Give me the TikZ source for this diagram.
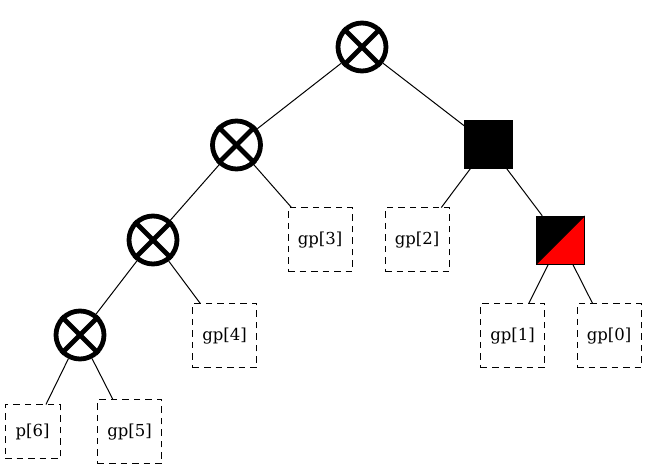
\documentclass[tikz,border=0pt]{standalone}
\usepackage{fontspec}
\setmainfont{DejaVu Serif}
\begin{document}
\begin{tikzpicture}[x=1pt,y=-1pt,
  otimesnode/.style={circle,draw,line width=4.8pt,minimum size=48pt,inner sep=0pt},
  leafbox/.style={rectangle,draw,dash pattern=on 6.5pt off 5pt,line width=1pt,minimum width=64pt,minimum height=64pt,inner sep=0pt,font=\fontsize{16.5}{19}\selectfont},
  blacksq/.style={rectangle,draw,fill=black,minimum size=48pt,inner sep=0pt},
  halfsq/.style={rectangle,draw,fill=black,minimum size=48pt,inner sep=0pt,
    path picture={\fill[red] (path picture bounding box.south west) -- (path picture bounding box.north east) -- (path picture bounding box.south east) -- cycle;
    \draw[line width=0.8pt] (path picture bounding box.south west) -- (path picture bounding box.north east);}},
  edge/.style={line width=1pt}]
\useasboundingbox (0,0) rectangle (646,470);
\node[otimesnode] (root) at (362,47) {};
\node[otimesnode] (c2) at (236.5,145) {};
\node[otimesnode] (c3) at (153,240) {};
\node[otimesnode] (c4) at (80,335) {};
\node[blacksq] (sq) at (488.5,144.5) {};
\node[halfsq] (rb) at (560.5,240) {};
\node[leafbox,minimum width=55pt,minimum height=54pt] (p6) at (32.5,432) {p[6]};
\node[leafbox] (gp5) at (129.5,432) {gp[5]};
\node[leafbox] (gp4) at (224.5,336) {gp[4]};
\node[leafbox] (gp3) at (320,240) {gp[3]};
\node[leafbox] (gp2) at (417,240) {gp[2]};
\node[leafbox] (gp1) at (512.5,336) {gp[1]};
\node[leafbox] (gp0) at (609,336) {gp[0]};
\foreach \n in {root,c2,c3,c4}{
  \draw[line width=4.8pt] (\n.north west) -- (\n.south east);
  \draw[line width=4.8pt] (\n.north east) -- (\n.south west);
}
\draw[edge] (root) -- (c2);
\draw[edge] (root) -- (sq);
\draw[edge] (c2) -- (c3);
\draw[edge] (c2) -- (gp3);
\draw[edge] (c3) -- (c4);
\draw[edge] (c3) -- (gp4);
\draw[edge] (c4) -- (p6);
\draw[edge] (c4) -- (gp5);
\draw[edge] (sq) -- (gp2);
\draw[edge] (sq) -- (rb);
\draw[edge] (rb) -- (gp1);
\draw[edge] (rb) -- (gp0);
\end{tikzpicture}
\end{document}
